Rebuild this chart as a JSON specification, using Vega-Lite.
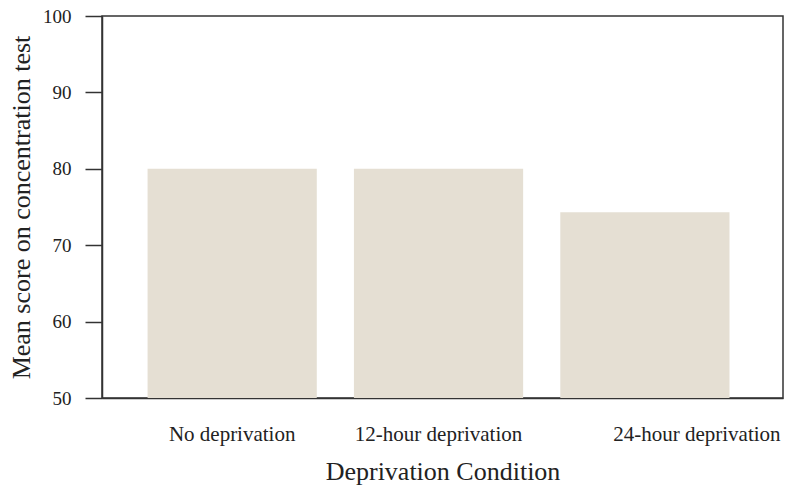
{
  "$schema": "https://vega.github.io/schema/vega-lite/v6.json",
  "autosize": {"type": "none"},
  "padding": {"left": 102, "top": 16, "right": 7, "bottom": 89},
  "width": 681,
  "height": 382,
  "data": {"values": [
    {"condition": "No deprivation", "score": 80},
    {"condition": "12-hour deprivation", "score": 80},
    {"condition": "24-hour deprivation", "score": 74.3}
  ]},
  "config": {
    "view": {"stroke": "#333333", "strokeWidth": 1.5},
    "font": "Liberation Serif",
    "axis": {
      "domainColor": "#333333",
      "domainWidth": 1.5,
      "tickColor": "#333333",
      "tickWidth": 1.5,
      "labelFont": "Liberation Serif",
      "titleFont": "Liberation Serif",
      "labelColor": "#222222",
      "titleColor": "#222222",
      "titleFontWeight": "normal",
      "grid": false
    }
  },
  "mark": {"type": "bar", "color": "#E5DFD3", "orient": "vertical"},
  "encoding": {
    "x": {
      "field": "condition",
      "type": "nominal",
      "sort": null,
      "scale": {"paddingInner": 0.18, "paddingOuter": 0.24, "align": 0.46},
      "axis": {
        "title": "Deprivation Condition",
        "labelAngle": 0,
        "ticks": false,
        "labelPadding": 25,
        "labelFontSize": 21,
        "titleFontSize": 26,
        "titlePadding": 14,
        "labelOffset": {"expr": "datum.value == '24-hour deprivation' ? 52 : 0"}
      }
    },
    "y": {
      "field": "score",
      "type": "quantitative",
      "scale": {"domain": [50, 100], "zero": false, "nice": false},
      "axis": {
        "title": "Mean score on concentration test",
        "values": [50, 60, 70, 80, 90, 100],
        "tickSize": 17,
        "labelPadding": 14,
        "labelFontSize": 19,
        "titleFontSize": 26,
        "titlePadding": 8
      }
    },
    "y2": {"datum": 50}
  }
}
